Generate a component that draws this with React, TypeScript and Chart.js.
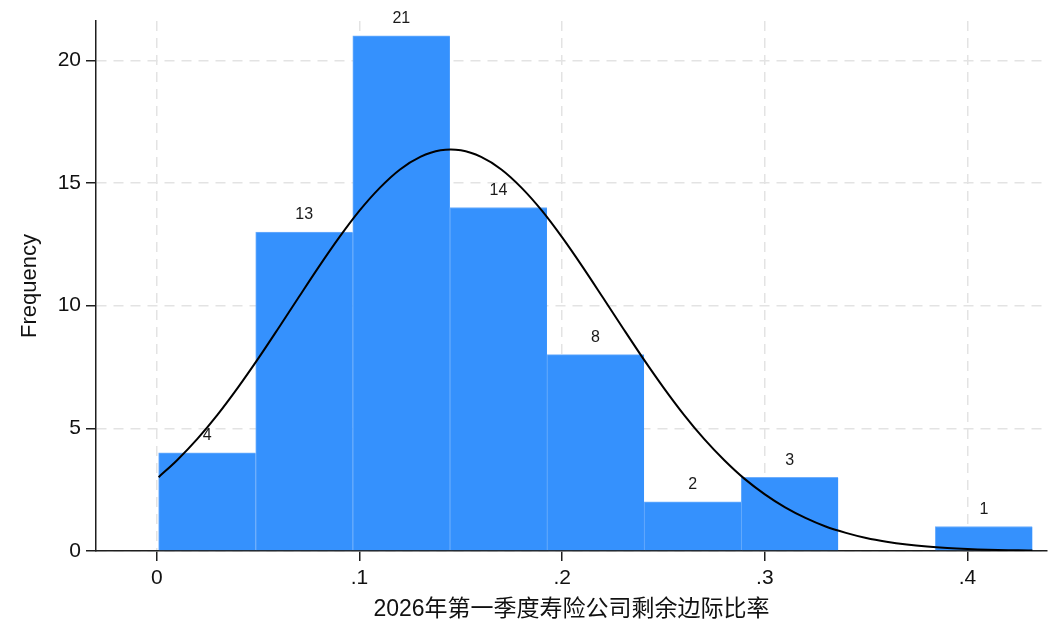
import React, { useEffect, useRef } from "react";
import { Chart, registerables } from "chart.js";

Chart.register(...registerables);

// Histogram bins
const binStart = 0.0009;
const binWidth = 0.0479;
const binCounts = [4, 13, 21, 14, 8, 2, 3, 0, 1];

// Normal density overlay
const curveX = [
  0.0009, 0.01, 0.02, 0.03, 0.04, 0.05, 0.06, 0.07, 0.08, 0.09, 0.1, 0.11,
  0.12, 0.13, 0.14, 0.15, 0.16, 0.17, 0.18, 0.19, 0.2, 0.21, 0.22, 0.23, 0.24,
  0.25, 0.26, 0.27, 0.28, 0.29, 0.3, 0.31, 0.32, 0.33, 0.34, 0.35, 0.36, 0.37,
  0.38, 0.39, 0.4, 0.41, 0.42, 0.43, 0.432,
];
const curveY = [
  3.01, 3.7, 4.57, 5.56, 6.66, 7.84, 9.08, 10.34, 11.59, 12.78, 13.87, 14.8,
  15.55, 16.06, 16.33, 16.33, 16.06, 15.55, 14.8, 13.87, 12.78, 11.59, 10.34,
  9.08, 7.84, 6.66, 5.56, 4.57, 3.7, 2.94, 2.31, 1.78, 1.35, 1.0, 0.74, 0.53,
  0.377, 0.263, 0.181, 0.122, 0.081, 0.053, 0.034, 0.022, 0.02,
];

// Axes
const xTickValues = [0, 0.1, 0.2, 0.3, 0.4];
const xTickLabels = ["0", ".1", ".2", ".3", ".4"];
const yTickValues = [0, 5, 10, 15, 20];
const yTickLabels = ["0", "5", "10", "15", "20"];
const xTitle = "2026年第一季度寿险公司剩余边际比率";
const yTitle = "Frequency";
const xMin = -0.03;
const xMax = 0.4392;
const yMin = 0;
const yMax = 21.6;

const FONT = '"Liberation Sans", Arial, "Noto Sans CJK SC", sans-serif';
const BAR_COLOR = "#3591fd";
const BAR_EDGE = "#6eaefc";
const GRID_COLOR = "#e3e3e3";
const AXIS_COLOR = "#1e1e1e";

const barLabelPlugin = {
  id: "barLabels",
  afterDatasetsDraw(chart: any) {
    const meta = chart.getDatasetMeta(1);
    const ctx = chart.ctx;
    ctx.save();
    ctx.font = `16px ${FONT}`;
    ctx.fillStyle = "#1a1a1a";
    ctx.textAlign = "center";
    ctx.textBaseline = "middle";
    meta.data.forEach((el: any, i: number) => {
      const v = binCounts[i];
      if (!v) return;
      ctx.fillText(String(v), el.x, el.y - 17);
    });
    ctx.restore();
  },
};

export default function App() {
  const canvasRef = useRef<HTMLCanvasElement | null>(null);

  useEffect(() => {
    document.body.style.margin = "0";
    const canvas = canvasRef.current;
    if (!canvas) return;

    const barData = binCounts.map((c, i) => ({
      x: binStart + (i + 0.5) * binWidth,
      y: c,
    }));
    const lineData = curveX.map((x, i) => ({ x, y: curveY[i] }));

    const chart = new Chart(canvas, {
      type: "bar",
      data: {
        datasets: [
          {
            type: "line",
            data: lineData,
            borderColor: "#000000",
            borderWidth: 2,
            pointRadius: 0,
            tension: 0.3,
            fill: false,
            order: 0,
          } as any,
          {
            type: "bar",
            data: barData,
            backgroundColor: BAR_COLOR,
            borderColor: BAR_EDGE,
            borderWidth: { top: 1, left: 1, right: 0, bottom: 0 },
            borderSkipped: false,
            barPercentage: 1,
            categoryPercentage: 1,
            order: 1,
          } as any,
        ],
      },
      options: {
        animation: false,
        responsive: true,
        maintainAspectRatio: false,
        layout: { padding: { top: 21, right: 7, left: 0, bottom: 0 } },
        plugins: {
          legend: { display: false },
          tooltip: { enabled: false },
        },
        scales: {
          x: {
            type: "linear",
            min: xMin,
            max: xMax,
            offset: false,
            afterBuildTicks: (scale: any) => {
              scale.ticks = xTickValues.map((v) => ({ value: v }));
            },
            afterFit: (scale: any) => {
              scale.height = 82;
            },
            ticks: {
              autoSkip: false,
              maxRotation: 0,
              padding: 5,
              color: "#111111",
              font: { family: FONT, size: 21 },
              callback: (value: any) => {
                const idx = xTickValues.findIndex(
                  (v) => Math.abs(v - Number(value)) < 1e-9
                );
                return idx >= 0 ? xTickLabels[idx] : "";
              },
            },
            grid: {
              offset: false,
              color: GRID_COLOR,
              lineWidth: 1.5,
              drawTicks: true,
              tickLength: 10,
              tickColor: AXIS_COLOR,
              tickWidth: 1.5,
              tickBorderDash: [],
            } as any,
            border: {
              display: true,
              color: AXIS_COLOR,
              width: 1.5,
              dash: [10, 7],
            },
            title: {
              display: true,
              text: xTitle,
              color: "#111111",
              font: { family: FONT, size: 23 },
              padding: { top: 0, bottom: 10 },
            },
          },
          y: {
            type: "linear",
            min: yMin,
            max: yMax,
            afterBuildTicks: (scale: any) => {
              scale.ticks = yTickValues.map((v) => ({ value: v }));
            },
            afterFit: (scale: any) => {
              scale.width = 96;
            },
            ticks: {
              autoSkip: false,
              padding: 5,
              color: "#111111",
              font: { family: FONT, size: 21 },
              callback: (value: any) => {
                const idx = yTickValues.findIndex(
                  (v) => Math.abs(v - Number(value)) < 1e-9
                );
                return idx >= 0 ? yTickLabels[idx] : "";
              },
            },
            grid: {
              color: GRID_COLOR,
              lineWidth: 1.5,
              drawTicks: true,
              tickLength: 10,
              tickColor: AXIS_COLOR,
              tickWidth: 1.5,
              tickBorderDash: [],
            } as any,
            border: {
              display: true,
              color: AXIS_COLOR,
              width: 1.5,
              dash: [10, 7],
            },
            title: {
              display: true,
              text: yTitle,
              color: "#111111",
              font: { family: FONT, size: 22 },
              padding: { top: 17, bottom: 0 },
            },
          },
        },
      } as any,
      plugins: [barLabelPlugin],
    });

    return () => {
      chart.destroy();
    };
  }, []);

  return (
    <div style={{ width: "1054px", height: "633px", position: "relative" }}>
      <canvas ref={canvasRef} />
    </div>
  );
}
